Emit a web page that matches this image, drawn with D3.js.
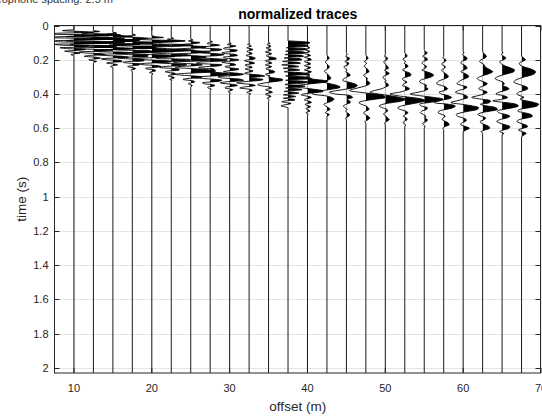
<!DOCTYPE html>
<html><head><meta charset="utf-8">
<script src="https://cdn.jsdelivr.net/npm/d3@7"></script>
<style>body{margin:0;background:#fff}svg{display:block}text{font-family:"Liberation Sans",Arial,Helvetica,sans-serif}</style>
</head><body><svg id="c" width="542" height="416"></svg>
<script>
// ---- data ----
const offsets = [10,12.5,15,17.5,20,22.5,25,27.5,30,32.5,35,37.5,40,42.5,45,47.5,50,52.5,55,57.5,60,62.5,65,67.5];
const startTimes = [0.025,0.03,0.04,0.05,0.06,0.07,0.08,0.09,0.10,0.10,0.10,0.09,0.12,0.17,0.16,0.17,0.17,0.16,0.14,0.18,0.15,0.15,0.15,0.18];
const sampleSteps = [0.005,0.005,0.005,0.005,0.005,0.005,0.005,0.005,0.005,0.005,0.005,0.005,0.005,0.01,0.01,0.01,0.01,0.01,0.01,0.01,0.01,0.01,0.01,0.01];
const tr10 = [0,-1.5,1,2.5,-2,-3.5,3,4.5,-1.5,-4,1,4,2,-3,-2,3,2.5,-2.5,-1.5,2,1.5,-1.8,-0.8,1.5,0.5,-1.2,-0.3,0.8,0.2,-0.4,0];
const tr12 = [0,0.8,-0.5,-1.5,2,3.5,-1,-3.5,0.5,4,3,-2.5,-3.5,1,4,1.5,-3,-2,2.5,3,-1,-2.5,0.5,2.5,1,-1.8,-1.2,1,1.5,-0.5,-1.2,0.2,0.9,0.3,-0.6,-0.2,0.4,0.1,0];
const tr15 = [0,0.5,-0.8,-0.5,1.5,2.5,-1,-3,-0.5,3.5,3,-2,-3.5,0.5,3.5,2,-2.5,-3,1,3,1.5,-2,-2,1,2.5,0.5,-1.8,-1,1.2,2,0.2,-1.5,-0.8,1,1.2,-0.3,-0.8,0.2,0.6,0,-0.3,0];
const tr17 = [0,0.4,-0.3,-0.8,0.8,2,0.5,-2,-2.5,1,3.5,2.5,-1.5,-3,-0.5,3,3,-1,-2.8,-0.5,2.5,2.5,-0.8,-2.2,-0.5,2,2,-0.5,-1.8,-0.5,1.5,1.5,-0.3,-1.2,-0.4,0.8,0.9,0,-0.6,-0.2,0.4,0.3,-0.2,-0.1,0];
const tr20 = [0,0.5,1.5,-0.5,-2,0.5,3,2.5,-1.5,-2.5,0,2.5,1.5,-1.5,-2,0.5,2,3,3,0.5,-2,-2.5,0,2.5,3,2,-1,-2.5,-1,1.5,2.5,2,-0.5,-1.8,-0.8,0.8,1.2,0.3,-0.8,-0.5,0.4,0.5,-0.1,-0.3,0.1,0.1,0];
const tr22 = [0,0.3,-0.5,0.5,1.8,0.5,-1.5,-1.5,1,2.8,1.5,-1.5,-2.5,-0.5,2,3,1.5,-1.5,-2.5,-0.5,2,2.5,0.5,-2,-2,0.5,2.5,2.2,-0.5,-2,-1.2,1,2,1,-1,-1.5,-0.2,1,1,-0.2,-0.8,-0.3,0.5,0.5,-0.2,-0.4,0.1,0.4,0.1,-0.2,0.1,0,0];
const tr25 = [0,0.3,-0.3,0.2,1.2,0.6,-1,-1.5,0.5,2,1.5,-1,-2,-0.5,1.5,2.5,1,-1.5,-2.5,-0.5,1.5,2,0.5,1.5,2.8,2,-0.5,-2.2,-1.5,0.5,1.5,0.5,-1.5,-2,-0.5,1.5,2.5,3.2,3,1.5,-0.8,-2,-1.2,0.5,1.5,1,-0.5,-1,-0.3,0.4,0.5,0,-0.3,-0.1,0.2,0.1,0];
const tr27 = [0,0.3,-0.2,-0.4,0.5,1.2,0.3,-1,-1.2,0.3,1.5,1.2,-0.5,-1.5,-1,0.8,1.8,1.2,-0.8,-1.8,-0.8,1,2.2,2,0.3,-1.5,-1.8,-0.2,1.5,1.2,-0.5,-1.5,-0.8,0.5,0.5,-0.5,-0.2,1,2.2,2.8,2,0.3,-1.5,-2,-0.8,0.8,1.5,1.2,0,-1,-0.8,0.2,0.6,0.3,-0.3,-0.3,0.1,0.1,0];
const tr30 = [0,0.2,-0.3,0.2,0.8,0.3,-0.6,-0.8,0.2,1,0.8,-0.5,-1,-0.3,0.8,1,0.2,-0.8,-0.6,0.4,1.2,0.8,-0.4,-1,-0.3,0.6,0.8,0,-0.6,-0.3,0.6,1.2,0.8,-0.2,-0.8,0,1.2,1.8,1.2,-0.3,-1.5,-1.2,0.3,1.5,1.8,0.8,-0.6,-1.2,-0.5,0.6,1,0.4,-0.5,-0.6,0,0.4,0.2,-0.2,-0.1,0.1,0];
const tr32 = [0,0.1,-0.2,0.1,0.3,0,-0.3,0.1,0.5,0.2,-0.3,-0.2,0.3,0.4,-0.1,-0.4,0,0.5,0.8,0.7,0,-0.6,-0.3,0.5,0.7,0.2,-0.5,-0.4,0.3,0.4,-0.2,-0.5,0,0.5,0.3,-0.4,-0.6,0.3,1.5,2,1.2,0.2,0.8,1.8,1.5,0.2,-1,-1.6,-0.8,0.4,0.8,0.2,-0.8,-1.2,-0.4,0.3,0.4,0,-0.3,-0.1,0.2,0,0];
const tr35 = [0,0.2,-0.2,-0.1,0.3,0.2,-0.3,-0.2,0.3,0.3,-0.2,-0.4,0.1,0.4,0.1,-0.3,-0.2,0.4,0.9,1,0.3,-0.4,-0.3,0.3,0.4,-0.1,-0.4,0,0.4,0.2,-0.3,-0.3,0.2,0.6,0.8,0.7,0.1,-0.4,-0.2,0.2,0,0.5,1.2,1.8,1.8,1.2,0.3,-0.4,-1,-1.4,-1.2,-0.5,0.2,0.4,0,-0.4,-0.2,0.3,0.5,0.1,-0.4,-0.3,0.2,0.3,0,-0.2,0,0.1,0,0];
const tr37 = [0,2,2.8,2.6,0.2,2.4,2.6,1.0,-0.2,2.2,2.4,0.8,-0.3,2,2.2,0.6,-0.4,1.8,2,0.4,-0.5,1.6,1.8,0.3,-0.7,1.2,1.6,0.2,-0.8,0.8,1.4,0.2,-0.6,1.0,1.5,0.3,-0.5,1.5,2.4,2.8,1.0,-0.3,2.0,2.8,3.0,1.2,-0.3,1.8,2.6,2.2,0.3,-0.4,1.6,2.2,1.0,-0.3,1.2,1.8,0.6,-0.5,0.8,1.4,0.4,-0.6,0.4,1.0,0.2,-0.6,0.6,0.9,-0.2,-0.8,-0.3,0.4,0,-0.6,-0.9,-0.4,0];
const tr40 = [0,0.1,0.3,0,-0.3,-0.1,0.3,0.2,-0.3,-0.3,0.2,0.4,0,-0.4,-0.1,0.4,0.5,0,-0.4,-0.2,0.3,0.4,-0.1,-0.4,0,0.4,0.3,-0.2,-0.4,0.1,0.5,0.3,-0.3,-0.4,0.1,0.3,-0.1,-0.3,0.2,1,2,2.6,2.4,1.6,0.5,-0.5,-1.2,-1.5,-1.3,-0.5,0.4,1.2,1.9,2,1.4,0.4,-0.5,-0.8,-0.4,0.2,0.5,0.2,-0.3,-0.4,0,0.4,0.5,0.1,-0.3,-0.2,0.2,0.4,0.1,-0.2,-0.1,0.2,0.3,0,-0.2,0,0.1,0];
const tr42 = [0,0.1,0.3,0.1,-0.2,-0.1,0.1,0.3,0.2,-0.2,-0.3,0,0.2,0.4,0.5,0.1,-0.4,0.4,1.3,1.7,0.9,-0.6,-2,-1.8,-0.3,0.6,0.9,0.7,0.1,-0.4,-0.2,0.2,0.4,0,-0.2,0.3,0];
const tr45 = [0,0.1,-0.1,0.4,0.3,-0.2,0.3,0.2,-0.3,-0.2,0.1,-0.1,0.3,0.5,0.1,-0.3,-0.5,0.2,1,1.4,1.1,0.2,-1.2,-2.2,-1.4,0.5,0.8,0.1,0.4,0.5,0,-0.4,-0.2,0.1,-0.1,0.1,0.4,0.3,-0.1,0];
const tr47 = [0,0.1,0.3,0.1,-0.2,0.1,-0.1,-0.2,0.1,0.3,0.4,0,-0.3,-0.1,0.2,0.1,0.4,0.5,0.1,-0.6,-1.5,-2.1,-0.8,1,2.3,2.5,1.3,-0.2,-0.9,-0.6,0,0.3,0.4,0,-0.3,-0.1,0.3,0.5,0.3,-0.1,0];
const tr50 = [0,-0.1,0.3,0.2,-0.2,-0.1,0.1,0.3,0.4,-0.1,0.2,0.5,0.1,-0.3,-0.2,0.1,-0.1,0.3,0.4,0,-0.5,-1.4,-2,-0.9,0.6,1.8,2.6,2.2,0.9,-0.3,-0.8,-0.4,0.2,0.3,-0.1,-0.2,0.1,0.3,0.5,0.2,-0.1,0];
const tr52 = [0,0.2,0.3,-0.1,-0.2,0.1,-0.1,0.3,0.4,0,-0.3,0.2,0.7,0.8,0.3,-0.3,-0.2,0.3,-0.1,-0.3,0.3,0.6,0.1,-0.7,-1.9,-1,0.8,2.2,2.6,1.8,0.6,-0.4,-0.9,-0.6,0.1,0.4,0.1,-0.2,0.2,0.3,-0.1,-0.2,0.1,0];
const tr55 = [0,0.1,0.4,0.1,-0.2,0.3,0.4,-0.1,-0.3,0,0.3,0.1,-0.3,0.3,0.9,1.2,0.9,0.2,-0.5,-0.6,-0.2,0.3,0.2,0.5,0.1,-0.8,-1.8,-0.6,1.2,2.4,2,0.6,-0.6,-0.4,0.4,0.3,-0.3,-0.5,-0.1,0.2,0.1,0.4,0.3,-0.2,-0.1,0.1,0];
const tr57 = [0,-0.1,0.3,0.2,-0.2,-0.2,0.2,0.1,-0.3,-0.1,0.2,0.5,0.6,0.2,-0.4,-0.8,-0.9,-0.3,0.3,0.5,0.1,-0.6,-0.3,0.6,1,0.5,-0.9,-1.2,0.6,1.5,1.2,0.3,-0.6,-0.7,-0.2,0.2,-0.1,-0.2,0.2,0.6,0.7,0.2,-0.1,0];
const tr60 = [0,0.1,-0.1,0.2,0.5,0.4,-0.2,-0.3,0.1,0.4,0.5,0.1,-0.3,0.2,0.6,0.7,0.3,-0.3,-0.6,-0.8,-0.2,0.5,0.2,-0.6,-1,-0.2,0.4,0.6,0,-0.8,-1.6,-0.2,1.2,2,1.8,0.8,-0.3,-0.9,-0.7,0,0.4,0.3,-0.2,-0.3,0.3,0.8,0.4,0];
const tr62 = [0,0.1,0.3,0.5,0.3,-0.2,-0.4,-0.1,0.2,0.3,0.6,1,1.3,0.9,0.2,-0.4,-0.7,-0.4,0.2,0.6,0.3,-0.3,-0.5,0.1,0.6,0.2,-0.6,-1.4,-0.2,1,0.9,-0.3,0.6,1.7,1.9,1,-0.2,-0.6,-0.2,0.4,0.2,-0.3,-0.2,0.3,0.8,0.9,0.3,-0.2,0];
const tr65 = [0,0.1,-0.1,0.2,0.5,0.2,-0.3,-0.2,0.1,0.6,1.2,1.6,1.5,0.8,0,-0.6,-0.9,-0.5,0.1,0.3,0.1,0.6,0.9,0.4,-0.4,-0.8,0.2,0.7,0.1,-1.2,0.4,1.8,2.1,1.4,0.2,-0.6,-0.4,0.5,1,0.6,-0.3,-0.7,-0.3,0.4,1,0.9,0.2,-0.3,0.2,0];
const tr67 = [0,0.3,0.5,0.1,-0.3,-0.2,0.2,0.9,1.5,1.8,1.7,1.2,0.4,-0.3,-0.8,-1,-0.6,0.1,0.7,0.8,0.3,-0.4,-0.6,-0.2,0.3,-0.2,0.6,1.6,2.2,2,1,-0.2,-0.5,0.4,1.2,1.4,0.7,-0.3,-0.6,-0.2,0.5,0.8,0.2,-0.4,0.1,0.6,0.3,0];
const traces = [tr10,tr12,tr15,tr17,tr20,tr22,tr25,tr27,tr30,tr32,tr35,tr37,tr40,tr42,tr45,tr47,tr50,tr52,tr55,tr57,tr60,tr62,tr65,tr67];
const xTicks = [10,20,30,40,50,60,70];
const yTicks = [0,0.2,0.4,0.6,0.8,1,1.2,1.4,1.6,1.8,2];
const xDomain = [7.5,70];
const yDomain = [0,2.03];
const titleText = "normalized traces";
const noteText = "Geophone spacing: 2.5 m";
const xLabel = "offset (m)";
const yLabel = "time (s)";

// ---- drawing ----
const svg = d3.select("#c");
const L = 54.5, R = 541, T = 25.5, B = 373;
const x = d3.scaleLinear().domain(xDomain).range([L, R]);
const y = d3.scaleLinear().domain(yDomain).range([T, B]);
const axisColor = "#262626";

svg.append("text").attr("x", 113).attr("y", 2.5).attr("text-anchor", "end")
  .attr("font-size", 11).attr("fill", "#333").text(noteText);
svg.append("text").attr("x", (L + R) / 2).attr("y", 18.5).attr("text-anchor", "middle")
  .attr("font-size", 14).attr("font-weight", "bold").attr("fill", "#000").text(titleText);

const defs = svg.append("defs");
defs.append("clipPath").attr("id", "plotclip").append("rect")
  .attr("x", L).attr("y", T).attr("width", R - L).attr("height", B - T);

// grid
const grid = svg.append("g").attr("stroke", "#e4e4e4").attr("stroke-width", 1);
yTicks.forEach(v => grid.append("line").attr("x1", L).attr("x2", R)
  .attr("y1", Math.round(y(v)) + 0.5).attr("y2", Math.round(y(v)) + 0.5));
xTicks.forEach(v => grid.append("line").attr("y1", T).attr("y2", B)
  .attr("x1", x(v)).attr("x2", x(v)));

const plot = svg.append("g").attr("clip-path", "url(#plotclip)");
const line = d3.line().curve(d3.curveCatmullRom.alpha(0.5)).x(d => x(d[0])).y(d => y(d[1]));
const area = d3.area().curve(d3.curveCatmullRom.alpha(0.5)).y(d => y(d[1]));

traces.forEach((amps, i) => {
  const o = offsets[i], t0 = startTimes[i], dt = sampleSteps[i];
  const pts = amps.map((a, k) => [o + a, t0 + k * dt]);
  const tEnd = t0 + (amps.length - 1) * dt;
  const cid = "tc" + i;
  defs.append("clipPath").attr("id", cid).append("rect")
    .attr("x", x(o)).attr("y", T).attr("width", R - x(o) + 60).attr("height", B - T);
  const g = plot.append("g");
  g.append("g").attr("clip-path", "url(#" + cid + ")").append("path")
    .attr("d", area.x0(() => x(o)).x1(d => x(d[0]))(pts)).attr("fill", "#000");
  g.append("path").attr("d", line(pts)).attr("fill", "none").attr("stroke", "#000").attr("stroke-width", 0.9);
  g.append("line").attr("x1", x(o)).attr("x2", x(o)).attr("y1", y(0)).attr("y2", y(t0))
    .attr("stroke", "#000").attr("stroke-width", 0.9);
  g.append("line").attr("x1", x(o)).attr("x2", x(o)).attr("y1", y(tEnd)).attr("y2", y(yDomain[1]))
    .attr("stroke", "#000").attr("stroke-width", 0.9);
});

// axes box and ticks
const ax = svg.append("g").attr("stroke", axisColor).attr("stroke-width", 1).attr("fill", "none");
ax.append("rect").attr("x", L).attr("y", T).attr("width", R - L - 0.5).attr("height", B - T);
const tl = 5;
yTicks.forEach(v => {
  const yy = Math.round(y(v)) + 0.5;
  ax.append("line").attr("x1", L).attr("x2", L + tl).attr("y1", yy).attr("y2", yy);
  ax.append("line").attr("x1", R - 0.5).attr("x2", R - 0.5 - tl).attr("y1", yy).attr("y2", yy);
});
xTicks.forEach(v => {
  ax.append("line").attr("x1", x(v)).attr("x2", x(v)).attr("y1", B).attr("y2", B - tl);
  ax.append("line").attr("x1", x(v)).attr("x2", x(v)).attr("y1", T).attr("y2", T + tl);
});

const lab = svg.append("g").attr("fill", axisColor).attr("font-size", 11);
yTicks.forEach(v => lab.append("text").attr("x", L - 6).attr("y", y(v) + 4)
  .attr("text-anchor", "end").text(d3.format("~g")(v)));
xTicks.forEach(v => lab.append("text").attr("x", x(v)).attr("y", 392)
  .attr("text-anchor", "middle").text(d3.format("~g")(v)));

svg.append("text").attr("x", (L + R) / 2).attr("y", 411).attr("text-anchor", "middle")
  .attr("font-size", 13.5).attr("fill", axisColor).text(xLabel);
svg.append("text").attr("transform", `translate(26,${(T + B) / 2}) rotate(-90)`)
  .attr("text-anchor", "middle").attr("font-size", 13.5).attr("fill", axisColor).text(yLabel);
</script></body></html>
